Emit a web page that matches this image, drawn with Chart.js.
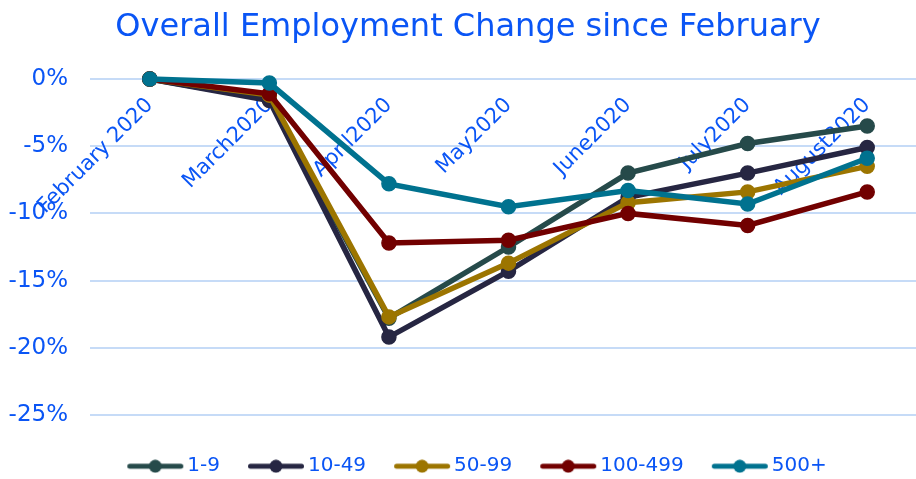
<!DOCTYPE html>
<html>
<head>
<meta charset="utf-8">
<script src="https://cdn.jsdelivr.net/npm/chart.js@4"></script>
<style>
  html, body { margin: 0; padding: 0; background: #fff; overflow: hidden; }
  /* the plot area runs slightly past the right edge in the original */
  #wrap { width: 927px; height: 479px; }
</style>
</head>
<body>
<div id="wrap"><canvas id="empChart"></canvas></div>
<script>
const months = ['February 2020', 'March2020', 'April2020', 'May2020', 'June2020', 'July2020', 'August2020'];
const seriesNames = ['1-9', '10-49', '50-99', '100-499', '500+'];
const seriesColors = ['#264a4a', '#262642', '#9c7500', '#720000', '#00728f'];

const size1to9 = [0, -1.5, -17.8, -12.5, -7.0, -4.8, -3.5];
const size10to49 = [0, -1.6, -19.2, -14.3, -8.8, -7.0, -5.1];
const size50to99 = [0, -1.2, -17.7, -13.7, -9.2, -8.4, -6.5];
const size100to499 = [0, -1.1, -12.2, -12.0, -10.0, -10.9, -8.4];
const size500plus = [0, -0.3, -7.8, -9.5, -8.3, -9.3, -5.9];
const seriesValues = [size1to9, size10to49, size50to99, size100to499, size500plus];

const yTicks = [0, -5, -10, -15, -20, -25];

const textBlue = '#0a55f5';
const font = 'DejaVu Sans';

// legend marker: a line with a dot in the middle
function legendMarker(color) {
    const c = document.createElement('canvas');
    c.width = 60;
    c.height = 14;
    const g = c.getContext('2d');
    g.strokeStyle = color;
    g.lineWidth = 5;
    g.lineCap = 'round';
    g.beginPath();
    g.moveTo(4.5, 7);
    g.lineTo(55.5, 7);
    g.stroke();
    g.fillStyle = color;
    g.beginPath();
    g.arc(30, 7, 6.5, 0, Math.PI * 2);
    g.fill();
    return c;
}

// the legend sits a bit right of centre in the original
const legendShift = {
    id: 'legendShift',
    afterLayout(chart) {
        chart.legend.left += 12;
        chart.legend.right += 12;
    }
};

const datasets = seriesNames.map((name, i) => ({
    label: name,
    data: seriesValues[i],
    borderColor: seriesColors[i],
    backgroundColor: seriesColors[i],
    pointBackgroundColor: seriesColors[i],
    pointBorderColor: seriesColors[i],
    borderWidth: 5.5,
    pointBorderWidth: 1.5,
    pointRadius: 7,
    pointHoverRadius: 7,
    tension: 0,
    clip: false,
    order: seriesNames.length - 1 - i // later series drawn on top
}));

new Chart(document.getElementById('empChart'), {
    type: 'line',
    data: { labels: months, datasets: datasets },
    options: {
        responsive: true,
        maintainAspectRatio: false,
        animation: false,
        layout: { autoPadding: false, padding: { left: 9, right: 0, top: 8.6, bottom: -7.2 } },
        plugins: {
            title: {
                display: true,
                text: 'Overall Employment Change since February',
                color: textBlue,
                font: { family: font, size: 32, weight: 'normal' },
                padding: { top: 0, bottom: 32 }
            },
            legend: {
                position: 'bottom',
                title: { display: true, text: ' ', font: { size: 1 }, padding: { top: 6, bottom: 0 } },
                labels: {
                    usePointStyle: true,
                    pointStyleWidth: 44,
                    boxHeight: 14,
                    padding: 34,
                    color: textBlue,
                    font: { family: font, size: 20 },
                    generateLabels: (chart) => chart.data.datasets.map((ds, i) => ({
                        text: ds.label,
                        fillStyle: ds.borderColor,
                        strokeStyle: ds.borderColor,
                        pointStyle: legendMarker(ds.borderColor),
                        fontColor: textBlue,
                        lineWidth: 0,
                        hidden: false,
                        datasetIndex: i
                    }))
                }
            },
            tooltip: { enabled: false }
        },
        scales: {
            x: {
                type: 'category',
                offset: true,
                position: { y: 0 },
                grid: { display: false },
                border: { display: false },
                ticks: {
                    color: textBlue,
                    font: { family: font, size: 21 },
                    minRotation: 45,
                    maxRotation: 45,
                    autoSkip: false,
                    padding: 6
                },
                afterFit: (scale) => {
                    scale.height = 0;
                    scale.paddingLeft = 0;
                    scale.paddingRight = 0;
                }
            },
            y: {
                min: -25,
                max: 0,
                afterBuildTicks: (scale) => { scale.ticks = yTicks.map(v => ({ value: v })); },
                grid: { color: '#c6dbf7', lineWidth: 2, drawTicks: false },
                border: { display: false },
                ticks: {
                    color: textBlue,
                    font: { family: font, size: 23 },
                    padding: 22,
                    callback: (v) => v + '%'
                },
                afterFit: (scale) => { scale.width = 81; }
            }
        }
    },
    plugins: [legendShift]
});
</script>
</body>
</html>
